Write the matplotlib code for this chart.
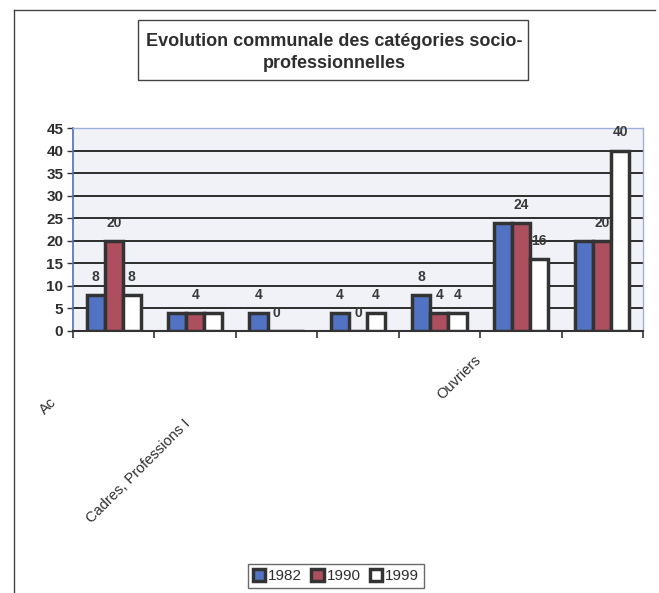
import numpy as np
import matplotlib
matplotlib.use('Agg')
import matplotlib.pyplot as plt
from matplotlib.patches import Rectangle
from matplotlib.lines import Line2D

plt.rcParams['font.family'] = ['Liberation Sans', 'DejaVu Sans']

# données par catégorie (7 catégories socio-professionnelles)
years = ['1982', '1990', '1999']
v1982 = [8, 4, 4, 4, 8, 24, 20]
v1990 = [20, 4, 0, 0, 4, 24, 20]
v1999 = [8, 4, 0, 4, 4, 16, 40]
# étiquettes de valeur affichées (None = masquée)
lab1982 = [8, None, 4, 4, 8, None, None]
lab1990 = [20, 4, 0, 0, 4, 24, 20]
lab1999 = [8, None, None, 4, 4, 16, 40]
cat_labels = ['Ac', 'Cadres, Professions I', 'Ouvriers']
yticks = [0, 5, 10, 15, 20, 25, 30, 35, 40, 45]

colors = ['#5273c4', '#ad4f5e', '#ffffff']
edge = '#333333'
txt = '#2e2e2e'

W, H = 659, 593
fig = plt.figure(figsize=(W / 100, H / 100), dpi=100)
fig.patch.set_facecolor('white')

# cadre de la page
fig.add_artist(Line2D([14 / W, 14 / W], [0, 1 - 10 / H], transform=fig.transFigure,
                      color='#444444', lw=1.0))
fig.add_artist(Line2D([14 / W, 655 / W], [1 - 10 / H, 1 - 10 / H], transform=fig.transFigure,
                      color='#444444', lw=1.0))

# titre encadré
fig.add_artist(Rectangle((138 / W, 1 - 80 / H), (528 - 138) / W, 60 / H,
                         transform=fig.transFigure, fill=False, ec='#444444', lw=1.0))
fig.text(334 / W, 1 - 42 / H, 'Evolution communale des catégories socio-',
         ha='center', va='center', fontsize=13, fontweight='bold', color=txt)
fig.text(334 / W, 1 - 63 / H, 'professionnelles',
         ha='center', va='center', fontsize=13, fontweight='bold', color=txt)

ax = fig.add_axes([73 / W, 1 - 331 / H, (643 - 73) / W, (331 - 128) / H])
ax.set_facecolor('#f1f2f8')

x = np.arange(len(v1982))
bw = 0.222
for k, (vals, labs) in enumerate(zip([v1982, v1990, v1999], [lab1982, lab1990, lab1999])):
    xs = x + (k - 1) * bw
    ax.bar(xs, vals, width=bw, color=colors[k], edgecolor=edge, linewidth=2.5,
           label=years[k], zorder=3)
    for xi, lab in zip(xs, labs):
        if lab is None:
            continue
        ax.annotate(str(lab), (xi, lab), xytext=(0, 13), textcoords='offset points',
                    ha='center', va='center', fontsize=10, fontweight='bold',
                    color='#3a3a3a', zorder=4, annotation_clip=False)

ax.set_xlim(-0.5, len(x) - 0.5)
ax.set_ylim(0, 45)
ax.set_yticks(yticks)
ax.yaxis.grid(True, color='#1e1e1e', lw=1.3, zorder=1)
ax.set_axisbelow(True)
ax.set_xticks(np.arange(len(x) + 1) - 0.5)
ax.set_xticklabels([])
ax.tick_params(axis='x', length=5, width=1.2, color='#333333')
ax.tick_params(axis='y', length=4, width=1.0, color='#333333',
               labelsize=11, labelcolor=txt, pad=3)
for t in ax.get_yticklabels():
    t.set_fontweight('bold')
ax.spines['bottom'].set_color('#333333')
ax.spines['bottom'].set_linewidth(1.5)
ax.spines['left'].set_color('#4f6fb8')
ax.spines['left'].set_linewidth(1.2)
for s in ('top', 'right'):
    ax.spines[s].set_color('#9fb0d8')
    ax.spines[s].set_linestyle((0, (1, 1)))
    ax.spines[s].set_linewidth(1.0)

# étiquettes de catégories (tronquées, inclinées)
label_pos = [(54, 400), (188, 421), (479, 358)]
for s, (px, py) in zip(cat_labels, label_pos):
    fig.text(px / W, 1 - py / H, s, rotation=45, rotation_mode='anchor',
             ha='right', va='center', fontsize=10.5, color=txt)

handles, labels = ax.get_legend_handles_labels()
leg = fig.legend(handles, labels, loc='center', bbox_to_anchor=(336 / W, 1 - 576 / H),
                 ncol=3, frameon=True, fancybox=False, edgecolor='#444444',
                 fontsize=11, handlelength=0.8, handleheight=0.8, handletextpad=0.2,
                 columnspacing=0.6, borderpad=0.35)
leg.get_frame().set_linewidth(1.0)
for t in leg.get_texts():
    t.set_color(txt)

fig.savefig('out.png', dpi=100, facecolor='white')
